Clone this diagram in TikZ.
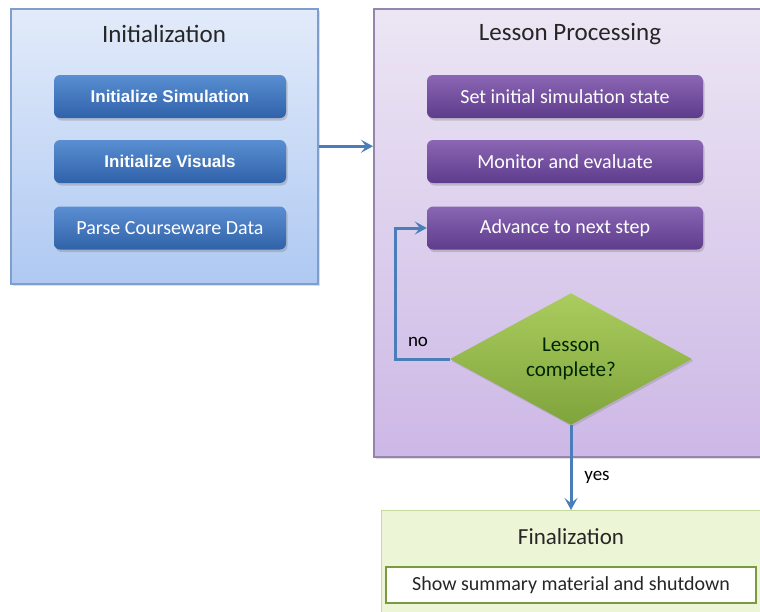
\documentclass[tikz,border=0pt]{standalone}
\usepackage{fontspec}
\setmainfont{Carlito}
\newfontfamily\arialbold{Liberation Sans}
\usetikzlibrary{shapes.geometric, arrows.meta, shadows}

\definecolor{initTop}{HTML}{E2EBFA}
\definecolor{initBot}{HTML}{AFC9F2}
\definecolor{initLine}{HTML}{7E9FCB}
\definecolor{blueTop}{HTML}{5A8ED2}
\definecolor{blueBot}{HTML}{2F62A8}
\definecolor{lessTop}{HTML}{ECE6F4}
\definecolor{lessBot}{HTML}{CDB8E6}
\definecolor{lessLine}{HTML}{9585AC}
\definecolor{purpTop}{HTML}{8A66B4}
\definecolor{purpBot}{HTML}{5E3C8C}
\definecolor{diaTop}{HTML}{ABCC5E}
\definecolor{diaBot}{HTML}{7FA43C}
\definecolor{finFill}{HTML}{ECF6D6}
\definecolor{finLine}{HTML}{C6DA9E}
\definecolor{finInner}{HTML}{7A9A40}
\definecolor{flow}{HTML}{4A7EBB}
\definecolor{ink}{HTML}{262626}

\tikzset{
  group/.style={draw, line width=1.5pt, rectangle, inner sep=0pt, anchor=north west},
  initgroup/.style={group, draw=initLine, top color=initTop, bottom color=initBot,
    drop shadow={shadow xshift=2pt, shadow yshift=-2pt, opacity=0.25}},
  lessgroup/.style={group, draw=lessLine, top color=lessTop, bottom color=lessBot,
    drop shadow={shadow xshift=2pt, shadow yshift=-2pt, opacity=0.25}},
  fingroup/.style={group, line width=1.2pt, draw=finLine, fill=finFill},
  title/.style={text=ink, font=\fontsize{25}{28}\selectfont, anchor=center},
  task/.style={rectangle, rounded corners=6pt, minimum width=232pt, minimum height=43pt,
    text=white, font=\fontsize{20}{23}\selectfont, inner sep=0pt,
    drop shadow={shadow xshift=1.5pt, shadow yshift=-2.5pt, opacity=0.35}},
  bluetask/.style={task, top color=blueTop, bottom color=blueBot},
  purptask/.style={task, minimum width=276pt, top color=purpTop, bottom color=purpBot},
  decision/.style={diamond, minimum width=242pt, minimum height=131pt, inner sep=0pt,
    top color=diaTop, bottom color=diaBot, text=black!85!green, align=center,
    font=\fontsize{21}{25}\selectfont,
    drop shadow={shadow xshift=1.5pt, shadow yshift=-2pt, opacity=0.3}},
  arr/.style={draw=flow, line width=3pt,
    -{Stealth[length=12pt, width=13pt, inset=5pt]}},
  lbl/.style={text=black, font=\fontsize{19}{22}\selectfont}
}

\begin{document}
\begin{tikzpicture}[x=1pt, y=-1pt]
  \useasboundingbox (0,0) rectangle (760,611);
  \fill[white] (0,0) rectangle (760,611);

  % Initialization group
  \node[initgroup, minimum width=307pt, minimum height=275pt] (init) at (10,8) {};
  \node[title] (initT) at (164,34) {Initialization};
  \node[bluetask, font=\arialbold\bfseries\fontsize{17}{20}\selectfont] (isim) at (170,96.5) {Initialize Simulation};
  \node[bluetask, font=\arialbold\bfseries\fontsize{17}{20}\selectfont] (ivis) at (170,161.5) {Initialize Visuals};
  \node[bluetask] (pcd) at (170,228) {Parse Courseware Data};

  % Lesson processing group
  \node[lessgroup, minimum width=392pt, minimum height=448pt] (less) at (373,8) {};
  \node[title] (lessT) at (570,34) {Lesson Processing};
  \node[purptask] (setst) at (565,96.5) {Set initial simulation state};
  \node[purptask] (mon) at (565,161.5) {Monitor and evaluate};
  \node[purptask] (adv) at (565,228) {Advance to next step};
  \node[decision] (dec) at (571,359) {Lesson\\complete?};

  % Finalization group
  \node[fingroup, minimum width=385pt, minimum height=110pt] (fin) at (381,510) {};
  \node[title, font=\fontsize{23}{26}\selectfont] (finT) at (571,537) {Finalization};
  \node[draw=finInner, line width=2pt, fill=white, minimum width=370pt, minimum height=36pt,
        inner sep=0pt, text=ink, font=\fontsize{20}{23}\selectfont] (show) at (571,585)
        {Show summary material and shutdown};

  % Flow connectors
  \coordinate (loopx) at (395,0);
  \draw[arr] (init.east) -- (init.east -| less.west);
  \draw[arr] (dec.west) -- (dec.west -| loopx) |- (adv.west);
  \draw[arr] (dec.south) -- (dec.south |- fin.north);

  \node[lbl, anchor=center] (no) at (418,342) {no};
  \node[lbl, anchor=center] (yes) at (597,477) {yes};
\end{tikzpicture}
\end{document}
